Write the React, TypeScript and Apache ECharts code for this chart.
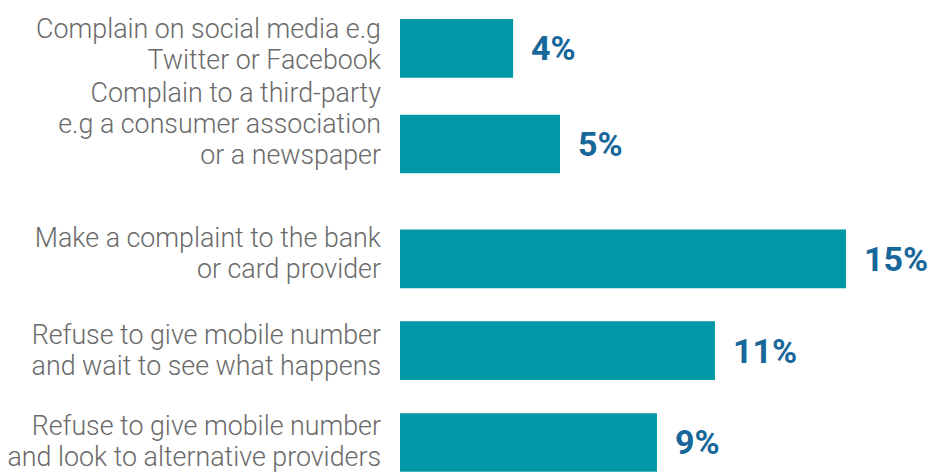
import React, { useEffect, useRef } from "react";
import * as echarts from "echarts";

const categories = [
  "Complain on social media e.g\nTwitter or Facebook",
  "Complain to a third-party\ne.g a consumer association\nor a newspaper",
  "Make a complaint to the bank\nor card provider",
  "Refuse to give mobile number\nand wait to see what happens",
  "Refuse to give mobile number\nand look to alternative providers",
];
const values = [3.86, 5.46, 15.22, 10.75, 8.77];

// layout: spacing between bars in slot units, and upward label shifts (px)
const slotGaps = [25, 30, 24, 24];
const labelShift = [8, 40, 10, 0, 2];

export default function App() {
  const ref = useRef<HTMLDivElement>(null);
  useEffect(() => {
    document.body.style.margin = "0";
    if (!ref.current) return;
    const chart = echarts.init(ref.current, undefined, { renderer: "svg" });

    const yData: string[] = [];
    const barData: any[] = [];
    const labelIndex: Record<number, number> = {};
    categories.forEach((c, i) => {
      labelIndex[yData.length] = i;
      yData.push(c);
      barData.push(values[i]);
      if (i < slotGaps.length) {
        for (let k = 1; k < slotGaps[i]; k++) {
          yData.push("");
          barData.push("-");
        }
      }
    });

    const rich: Record<string, any> = {};
    labelShift.forEach((s) => {
      if (s) rich["sp" + s] = { lineHeight: s, fontSize: 1 };
    });

    chart.setOption({
      animation: false,
      grid: {
        left: 400,
        top: 46.4,
        height: 398,
        width: 527.4,
        containLabel: false,
        outerBoundsMode: "none",
      },
      xAxis: {
        type: "value",
        min: 0,
        max: 18,
        show: false,
      },
      yAxis: {
        type: "category",
        inverse: true,
        data: yData,
        axisLine: { show: false },
        axisTick: { show: false },
        splitLine: { show: false },
        axisLabel: {
          interval: 0,
          margin: 19,
          color: "#6a6a6a",
          fontFamily: "'Roboto Light', Roboto, sans-serif",
          fontWeight: 300,
          fontSize: 26.8,
          lineHeight: 31,
          align: "right",
          formatter: (v: string, idx: number) => {
            if (!v) return "";
            const i = labelIndex[idx];
            const s = i !== undefined ? labelShift[i] : 0;
            return s ? v + "\n{sp" + s + "| }" : v;
          },
          rich,
        },
      },
      series: [
        {
          type: "bar",
          data: barData,
          barWidth: 58.7,
          clip: false,
          itemStyle: { color: "#0098A6" },
          label: {
            show: true,
            position: "right",
            distance: 18,
            formatter: (p: any) => Math.round(p.value) + "%",
            color: "#17679A",
            fontFamily: "Roboto",
            fontWeight: "bold",
            fontSize: 34,
          },
        },
      ],
    });
    return () => chart.dispose();
  }, []);
  return <div ref={ref} style={{ width: 933, height: 472 }} />;
}
